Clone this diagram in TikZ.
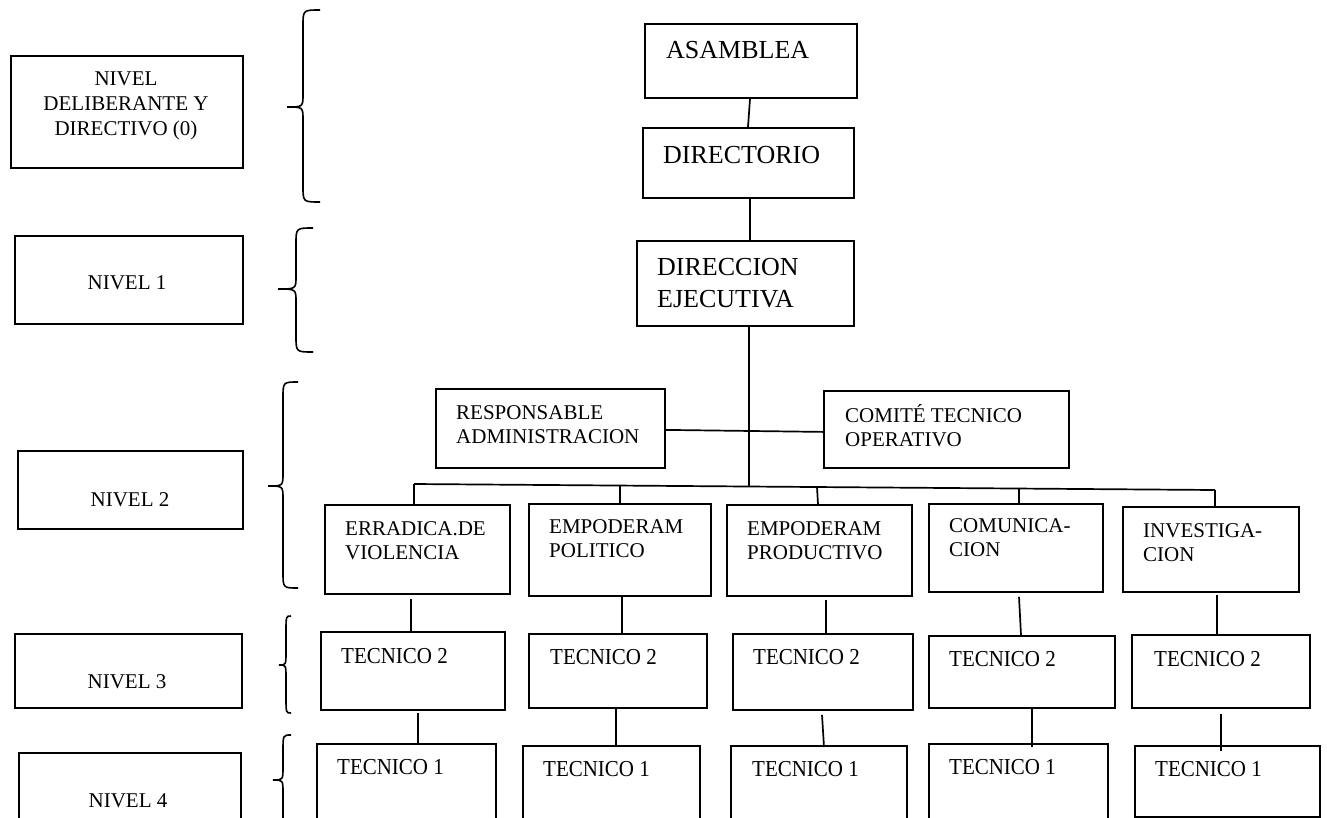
\documentclass[tikz,border=0pt]{standalone}
\usepackage{fontspec}
\setmainfont{Liberation Serif}
\newfontfamily\tecfont[FakeStretch=0.92]{Liberation Serif}
\newcommand\orgbrace[6]{% end x, spine x, tip x, top y, mid y, bottom y
  \draw[brc] (#1,#4) .. controls (#2,#4) .. (#2,#4+16) -- (#2,#5-13)
    .. controls (#2,#5) .. (#3,#5) .. controls (#2,#5) .. (#2,#5+13)
    -- (#2,#6-16) .. controls (#2,#6) .. (#1,#6);}
\tikzset{
  box/.style={draw, line width=1.8pt, inner sep=0pt, anchor=north west},
  link/.style={line width=1.7pt},
  brc/.style={line width=1.6pt},
  lvl/.style={inner sep=0pt, anchor=base, font=\fontsize{21}{25}\selectfont},
  big/.style={inner sep=0pt, anchor=base west, font=\fontsize{26}{32}\selectfont},
  mid/.style={inner sep=0pt, anchor=base west, font=\fontsize{21}{24}\selectfont},
  tec/.style={inner sep=0pt, anchor=base west, font=\tecfont\fontsize{22.8}{24}\selectfont},
}
\begin{document}
\begin{tikzpicture}[x=1pt,y=-1pt]
\useasboundingbox (0,0) rectangle (1327,817);
\clip (0,0) rectangle (1327,817);
% level boxes
\node[box, minimum width=232pt, minimum height=112pt] (l0) at (10,55) {};
\node[box, minimum width=228pt, minimum height=88pt] (l1) at (14,235) {};
\node[box, minimum width=225pt, minimum height=78pt] (l2) at (17,450) {};
\node[box, minimum width=227pt, minimum height=74pt] (l3) at (14,633) {};
\node[box, minimum width=222pt, minimum height=90pt] (l4) at (18,752) {};
\node[lvl] (t0) at (126,85) {\begin{tabular}[t]{@{}c@{}}NIVEL\\DELIBERANTE Y\\DIRECTIVO (0)\end{tabular}};
\node[lvl] (t1) at (127,289) {NIVEL 1};
\node[lvl] (t2) at (130,506) {NIVEL 2};
\node[lvl] (t3) at (127,688) {NIVEL 3};
\node[lvl] (t4) at (128,807) {NIVEL 4};
% braces
\orgbrace{320}{303}{287}{10}{107}{202}
\orgbrace{313}{296}{278}{228}{289}{352}
\orgbrace{298}{283}{268}{382}{486}{588}
\orgbrace{291}{286}{279}{616}{665}{713}
\orgbrace{291}{283}{273}{735}{780}{860}
% top column
\node[box, minimum width=212pt, minimum height=74pt] (asm) at (644,23) {};
\node[big] (tasm) at (666,58) {ASAMBLEA};
\node[box, minimum width=211pt, minimum height=70pt] (dir) at (642,127) {};
\node[big] (tdir) at (663,163) {DIRECTORIO};
\node[box, minimum width=217pt, minimum height=85pt] (dej) at (636,240) {};
\node[big] (tdej) at (657,275) {\begin{tabular}[t]{@{}l@{}}DIRECCION\\EJECUTIVA\end{tabular}};
\draw[link] ([xshift=106pt]asm.south west) -- ([xshift=106pt]dir.north west);
\draw[link] ([xshift=108pt]dir.south west) -- ([xshift=114pt]dej.north west);
% staff
\node[box, minimum width=229pt, minimum height=79pt] (resp) at (435,388) {};
\node[mid] (tresp) at (456,419) {\begin{tabular}[t]{@{}l@{}}RESPONSABLE\\ADMINISTRACION\end{tabular}};
\node[box, minimum width=245pt, minimum height=77pt] (com) at (823,390) {};
\node[mid] (tcom) at (845,422) {\begin{tabular}[t]{@{}l@{}}COMITÉ TECNICO\\OPERATIVO\end{tabular}};
\draw[link] ([yshift=-1.5pt]resp.east) -- ([yshift=-2.5pt]com.west);
% branch line
\coordinate (d1) at (414,484);
\coordinate (d2) at (620,485.5);
\coordinate (bj) at (749,486.5);
\coordinate (d3) at (817,487);
\coordinate (d4) at (1019,488.5);
\coordinate (d5) at (1215,490);
\draw[link] (d1) -- (d5);
\draw[link] ([xshift=113pt]dej.south west) -- (bj);
% branch boxes
\node[box, minimum width=185pt, minimum height=89pt] (b1) at (324,504) {};
\node[box, minimum width=182pt, minimum height=92pt] (b2) at (528,503) {};
\node[box, minimum width=185pt, minimum height=91pt] (b3) at (726,504) {};
\node[box, minimum width=174pt, minimum height=88pt] (b4) at (928,503) {};
\node[box, minimum width=176pt, minimum height=85pt] (b5) at (1122,506) {};
\node[mid] (tb1) at (345,535) {\begin{tabular}[t]{@{}l@{}}ERRADICA.DE\\VIOLENCIA\end{tabular}};
\node[mid] (tb2) at (549,533) {\begin{tabular}[t]{@{}l@{}}EMPODERAM\\POLITICO\end{tabular}};
\node[mid] (tb3) at (747,535) {\begin{tabular}[t]{@{}l@{}}EMPODERAM\\PRODUCTIVO\end{tabular}};
\node[mid] (tb4) at (949,532) {\begin{tabular}[t]{@{}l@{}}COMUNICA-\\CION\end{tabular}};
\node[mid] (tb5) at (1143,537) {\begin{tabular}[t]{@{}l@{}}INVESTIGA-\\CION\end{tabular}};
\draw[link] (d1) -- ([xshift=90pt]b1.north west);
\draw[link] (d2) -- ([xshift=92pt]b2.north west);
\draw[link] (d3) -- ([xshift=92pt]b3.north west);
\draw[link] (d4) -- ([xshift=91pt]b4.north west);
\draw[link] (d5) -- ([xshift=93pt]b5.north west);
% tecnico 2
\node[box, minimum width=184pt, minimum height=78pt] (ta) at (320,631) {};
\node[box, minimum width=178pt, minimum height=74pt] (tb) at (528,633) {};
\node[box, minimum width=180pt, minimum height=76pt] (tc) at (732,633) {};
\node[box, minimum width=186pt, minimum height=72pt] (td) at (928,635) {};
\node[box, minimum width=178pt, minimum height=73pt] (te) at (1131,634) {};
\node[tec] (tta) at (341,663) {TECNICO 2};
\node[tec] (ttb) at (550,664) {TECNICO 2};
\node[tec] (ttc) at (753,664) {TECNICO 2};
\node[tec] (ttd) at (949,666) {TECNICO 2};
\node[tec] (tte) at (1154,666) {TECNICO 2};
\draw[link] ([xshift=87pt,yshift=-4pt]b1.south west) -- ([xshift=91pt]ta.north west);
\draw[link] ([xshift=94pt]b2.south west) -- ([xshift=94pt]tb.north west);
\draw[link] ([xshift=100pt,yshift=-3pt]b3.south west) -- ([xshift=94pt]tc.north west);
\draw[link] ([xshift=91pt,yshift=-4pt]b4.south west) -- ([xshift=93pt]td.north west);
\draw[link] ([xshift=95pt,yshift=-2pt]b5.south west) -- ([xshift=86pt]te.north west);
% tecnico 1
\node[box, minimum width=179pt, minimum height=90pt] (ua) at (316,743) {};
\node[box, minimum width=177pt, minimum height=90pt] (ub) at (522,745) {};
\node[box, minimum width=176pt, minimum height=90pt] (uc) at (730,745) {};
\node[box, minimum width=179pt, minimum height=90pt] (ud) at (928,743) {};
\node[box, minimum width=185pt, minimum height=71pt] (ue) at (1134,745) {};
\node[tec] (tua) at (337,774) {TECNICO 1};
\node[tec] (tub) at (543,776) {TECNICO 1};
\node[tec] (tuc) at (752,776) {TECNICO 1};
\node[tec] (tud) at (949,774) {TECNICO 1};
\node[tec] (tue) at (1155,776) {TECNICO 1};
\draw[link] ([xshift=98pt,yshift=-2pt]ta.south west) -- ([xshift=102pt]ua.north west);
\draw[link] ([xshift=88pt]tb.south west) -- ([xshift=94pt]ub.north west);
\draw[link] ([xshift=90pt,yshift=-4pt]tc.south west) -- ([xshift=94pt,yshift=-2pt]uc.north west);
\draw[link] ([xshift=104pt]td.south west) -- ([xshift=104pt,yshift=-4pt]ud.north west);
\draw[link] ([xshift=90pt,yshift=-5pt]te.south west) -- ([xshift=87pt,yshift=-6pt]ue.north west);
\end{tikzpicture}
\end{document}
